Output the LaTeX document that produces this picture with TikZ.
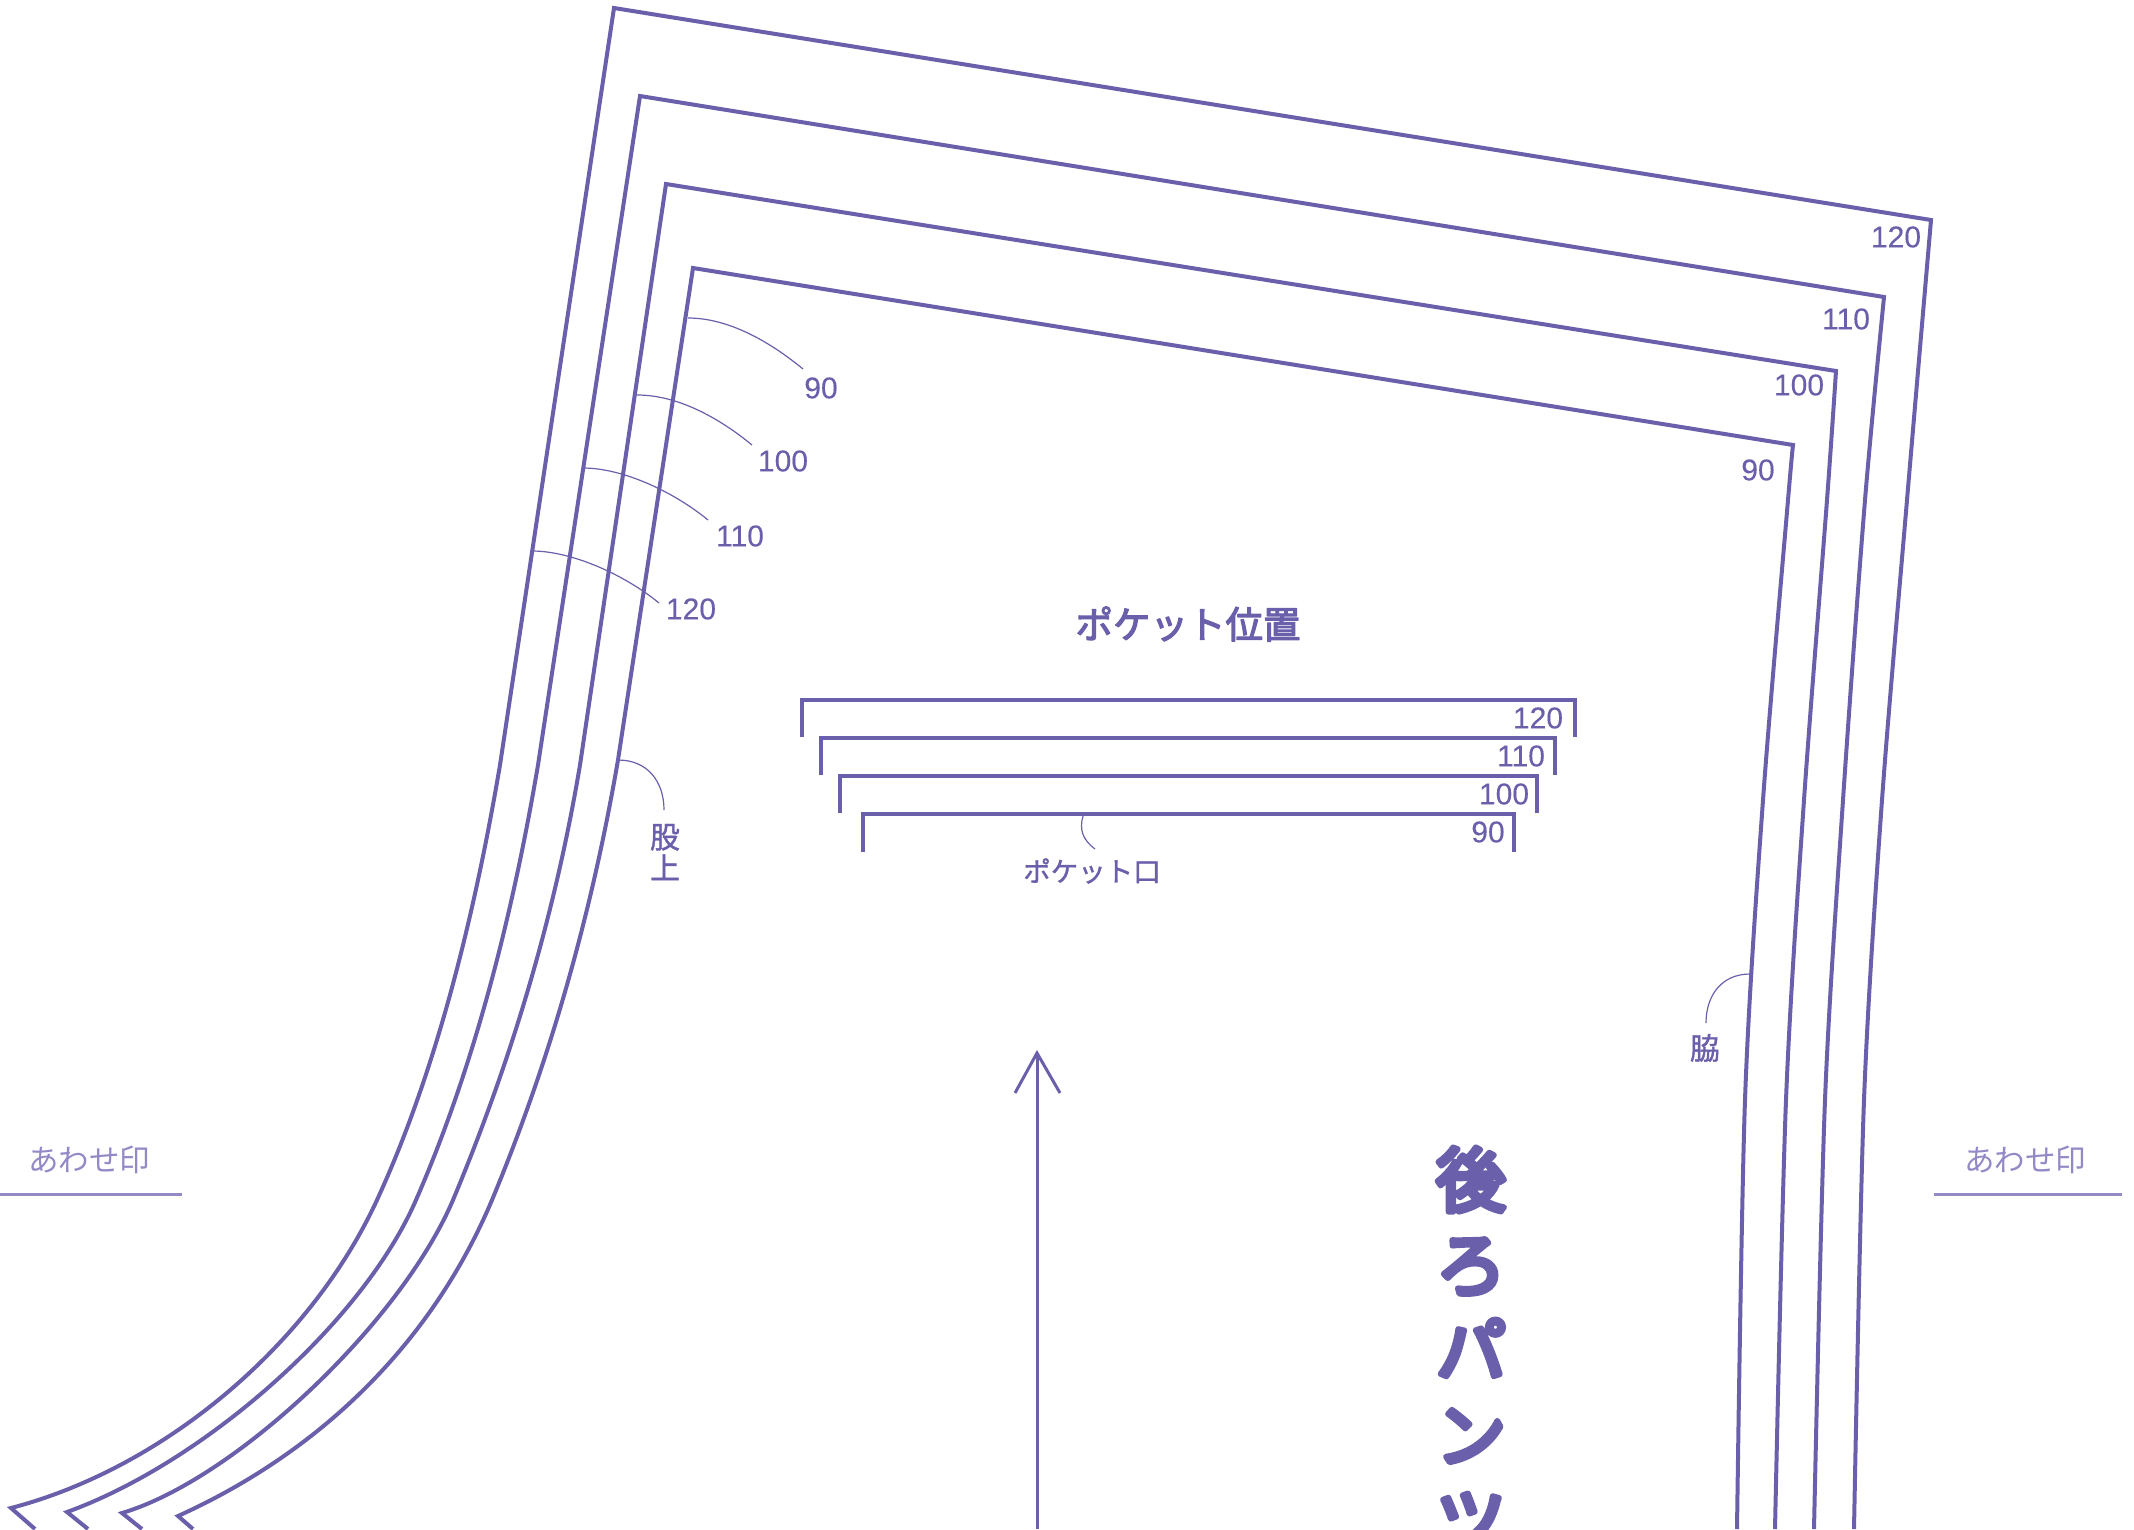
\documentclass[tikz,border=0pt]{standalone}
\usepackage{fontspec}
\setmainfont{Liberation Sans}[FakeBold=0.25]
\newfontfamily\cjk{Noto Sans CJK JP}
\newfontfamily\cjkm{Noto Sans CJK JP}[FakeBold=1.2]
\newfontfamily\cjkt{Noto Sans CJK JP}[FakeBold=3.2]
\newfontfamily\cjkb{Noto Sans CJK JP}[FakeBold=8]
\newcommand{\roundstroke}{\special{pdf:code 1 J 1 j}}
\definecolor{pat}{HTML}{6A5FAB}
\definecolor{patl}{HTML}{9389C6}
\tikzset{
  outline/.style={draw=pat,line width=4pt,line join=miter,miter limit=10},
  bracket/.style={draw=pat,line width=4pt,line join=miter},
  leader/.style={draw=pat,line width=1.2pt},
  numlab/.style={text=pat,inner sep=0pt,font=\fontsize{30}{30}\selectfont},
  jplab/.style={text=pat,inner sep=0pt,font=\cjkm\fontsize{27.5}{28}\selectfont},
  marktext/.style={text=patl,inner sep=0pt,font=\cjk\fontsize{30.5}{31}\selectfont},
  markline/.style={draw=patl,line width=3pt},
  titlelab/.style={text=pat,inner sep=0pt,font=\cjkt\fontsize{37.5}{38}\selectfont},
  biglab/.style={text=pat,inner sep=0pt,align=center,font=\cjkb\fontsize{70}{85}\selectfont}
}
\begin{document}
\begin{tikzpicture}[x=1pt,y=-1pt]
\useasboundingbox (0,0) rectangle (2134,1529);
\clip (0,0) rectangle (2134,1529);
% size 120
\draw[outline] plot[smooth,tension=.5] coordinates {(1854,1529)(1864,1100)(1882,800)(1907,500)(1931,220)}
 -- (614,8) -- (500,765) .. controls (470,942) and (429,1087) .. (377,1200) .. controls (310,1345) and (164,1468) .. (11,1508) -- (35,1529);
% size 110
\draw[outline] plot[smooth,tension=.5] coordinates {(1814,1529)(1825,1100)(1843,800)(1865,500)(1884,297)}
 -- (640,96) -- (538,765) .. controls (509,936) and (468,1081) .. (416,1200) .. controls (363,1322) and (205,1462) .. (67,1512) -- (88,1529);
% size 100
\draw[outline] plot[smooth,tension=.5] coordinates {(1775,1529)(1786,1100)(1804,800)(1827,500)(1836,371)}
 -- (666,184) -- (580,765) .. controls (555,914) and (512,1059) .. (453,1200) .. controls (401,1322) and (236,1479) .. (122,1513) -- (142,1529);
% size 90
\draw[outline] plot[smooth,tension=.5] coordinates {(1737,1529)(1745,1100)(1763,800)(1788,500)(1793,445)}
 -- (693,268) -- (618,760) .. controls (591,917) and (549,1063) .. (492,1200) .. controls (433,1340) and (324,1450) .. (178,1516) -- (193,1529);
% corner labels
\node[numlab] (c120) at (1896,237) {120};
\node[numlab] (c110) at (1846,319) {110};
\node[numlab] (c100) at (1799,385) {100};
\node[numlab] (c90) at (1758,470) {90};
% crotch leaders
\node[numlab] (l90) at (821,388) {90};
\node[numlab] (l100) at (783,461) {100};
\node[numlab] (l110) at (740,536) {110};
\node[numlab] (l120) at (691,609) {120};
\coordinate (a90) at (688,318);
\coordinate (a100) at (637,395);
\coordinate (a110) at (583,468);
\coordinate (a120) at (532,551);
\coordinate (b90) at (803,369);
\coordinate (b100) at (752,445);
\coordinate (b110) at (708,520);
\coordinate (b120) at (659,603);
\draw[leader] (a90) .. controls +(40,0) and +(-34,-28) .. (b90);
\draw[leader] (a100) .. controls +(40,0) and +(-34,-28) .. (b100);
\draw[leader] (a110) .. controls +(40,0) and +(-34,-28) .. (b110);
\draw[leader] (a120) .. controls +(40,0) and +(-34,-28) .. (b120);
% 股上
\node[jplab,align=center,font=\cjkm\fontsize{30}{31}\selectfont] (mata) at (665,852) {股\\上};
\coordinate (am) at (618,760);
\coordinate (bm) at (664,810);
\draw[leader] (am) .. controls +(30,0) and +(0,-28) .. (bm);
% 脇
\node[jplab,font=\cjkm\fontsize{30}{30}\selectfont] (waki) at (1705,1048) {脇};
\coordinate (aw) at (1750,974);
\coordinate (bw) at (1706,1023);
\draw[leader] (aw) .. controls +(-28,0) and +(0,-28) .. (bw);
% pocket
\node[titlelab] (ptitle) at (1188,624) {\roundstroke ポケット位置};
\draw[bracket] (802,737) -- (802,700) -- (1575,700) -- (1575,737);
\draw[bracket] (821,775) -- (821,738) -- (1555,738) -- (1555,775);
\draw[bracket] (840,813) -- (840,776) -- (1537,776) -- (1537,813);
\draw[bracket] (863,852) -- (863,814) -- (1514,814) -- (1514,852);
\node[numlab] (p120) at (1538,718) {120};
\node[numlab] (p110) at (1521,756) {110};
\node[numlab] (p100) at (1504,794) {100};
\node[numlab] (p90) at (1488,832) {90};
\node[jplab] (pmouth) at (1092,871) {\roundstroke ポケット口};
\coordinate (apm) at (1083,816);
\coordinate (bpm) at (1095,849);
\draw[leader] (apm) .. controls (1079,830) and (1083,840) .. (bpm);
% grain arrow
\coordinate (tip) at (1037,1053);
\coordinate (tail) at (1037,1529);
\coordinate (barbl) at (1015,1093);
\coordinate (barbr) at (1060,1093);
\draw[outline,line width=3pt] (tail) -- (tip);
\draw[outline,line width=3pt] (barbl) -- (tip) -- (barbr);
% title
\node[biglab,anchor=north] (big) at (1471,1147) {\roundstroke 後\\\roundstroke ろ\\\roundstroke パ\\\roundstroke ン\\\roundstroke ツ};
% notches
\node[marktext] (ml) at (89,1160) {あわせ印};
\node[marktext] (mr) at (2025,1160) {あわせ印};
\coordinate (ml1) at (0,1194);
\coordinate (ml2) at (182,1194);
\coordinate (mr1) at (1934,1194);
\coordinate (mr2) at (2122,1194);
\draw[markline] (ml1) -- (ml2);
\draw[markline] (mr1) -- (mr2);
\end{tikzpicture}
\end{document}
